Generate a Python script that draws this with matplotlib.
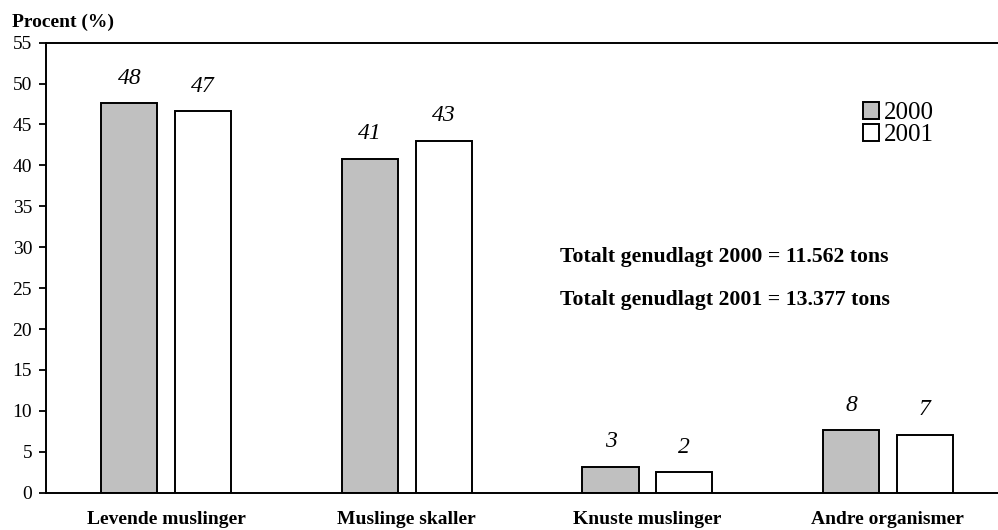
import numpy as np
import matplotlib
matplotlib.use("Agg")
import matplotlib.pyplot as plt
from matplotlib.patches import Patch

plt.rcParams["font.family"] = ["Liberation Serif", "DejaVu Serif"]

# Data
categories = ["Levende muslinger", "Muslinge skaller", "Knuste muslinger", "Andre organismer"]
values_2000 = [47.6, 40.8, 3.2, 7.6]
values_2001 = [46.6, 43.0, 2.5, 7.1]
labels_2000 = ["48", "41", "3", "8"]
labels_2001 = ["47", "43", "2", "7"]
years = ["2000", "2001"]
totals = ["11.562", "13.377"]

fig = plt.figure(figsize=(9.98, 5.30), dpi=100)
ax = fig.add_axes([0.0461, 0.0704, 0.9539, 0.8492])

x = np.arange(len(categories))
w = 0.233
off = 0.153

b1 = ax.bar(x - off, values_2000, w, color="#c0c0c0", edgecolor="black", linewidth=1.4)
b2 = ax.bar(x + off, values_2001, w, color="white", edgecolor="black", linewidth=1.4)

# italic value labels above the bars
for bars, labs in [(b1, labels_2000), (b2, labels_2001)]:
    for bar, lab in zip(bars, labs):
        ax.annotate(lab, (bar.get_x() + bar.get_width() / 2, bar.get_height()),
                    xytext=(0, 14), textcoords="offset points",
                    ha="center", va="baseline", fontsize=17, style="italic")

ax.set_ylim(0, 55)
ax.set_yticks(range(0, 56, 5))
ax.set_xlim(-0.5, 3.458)
ax.set_xticks(x)
ax.set_xticklabels(categories, fontsize=14, fontweight="bold")
ax.tick_params(axis="x", length=0, pad=13.5)
ax.tick_params(axis="y", labelsize=14, length=5, width=1.3, pad=5)

for s in ["left", "top", "bottom"]:
    ax.spines[s].set_linewidth(1.4)
ax.spines["right"].set_visible(False)

fig.text(0.012, 1 - 22 / 530, "Procent (%)", fontsize=14, fontweight="bold", ha="left", va="center")

for i, (yr, tot) in enumerate(zip(years, totals)):
    fig.text(0.561, 1 - (257 + 43 * i) / 530, f"Totalt genudlagt {yr} = {tot} tons",
             fontsize=15.7, fontweight="bold", ha="left", va="center")

# Legend
handles = [Patch(facecolor="#c0c0c0", edgecolor="black", linewidth=1.4),
           Patch(facecolor="white", edgecolor="black", linewidth=1.4)]
leg = ax.legend(handles, years, loc="upper left", bbox_to_anchor=(863 / 998, 1 - 102 / 530),
                bbox_transform=fig.transFigure, frameon=False, fontsize=18,
                handlelength=0.65, handleheight=0.65, handletextpad=0.2,
                labelspacing=0.0, borderpad=0, borderaxespad=0)

fig.savefig("out.png", dpi=100)
